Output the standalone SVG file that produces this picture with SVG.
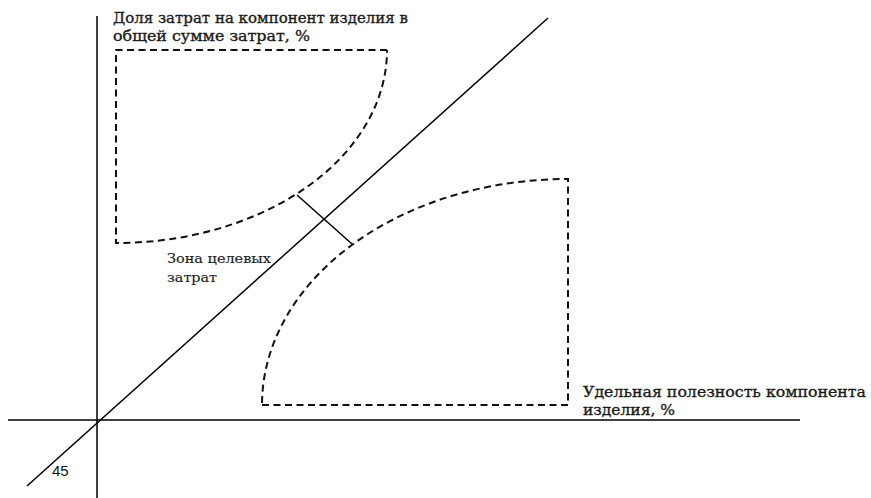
<svg xmlns="http://www.w3.org/2000/svg" width="871" height="498" viewBox="0 0 871 498">
<style>
.ax{stroke:#000;stroke-width:1.5;fill:none}
.zone{stroke:#111;stroke-width:2;fill:none;stroke-dasharray:7 4.5}
.t{font-size:15.5px;fill:#1a1a1a;stroke:#1a1a1a;stroke-width:0.35}
.s{font-size:13.5px;fill:#222;stroke:#222;stroke-width:0.15}
</style>
<rect width="871" height="498" fill="#fff"/>
<g id="connectors">
<line class="ax" x1="97" y1="16" x2="97" y2="498"/>
<line class="ax" x1="8" y1="420" x2="800" y2="420"/>
<line class="ax" x1="27" y1="486" x2="548" y2="18"/>
<line class="ax" x1="297" y1="195" x2="352" y2="244"/>
</g>
<g id="zone-upper">
<path class="zone" d="M387,50 L116,50 L116,243 A271,193 0 0 0 387,50"/>
</g>
<g id="zone-lower">
<path class="zone" d="M262,405 L568,405 L568,179 A306,226 0 0 0 262,405"/>
</g>
<g id="labels" font-family="DejaVu Serif, Liberation Serif, serif">
<text class="t" x="113" y="23" textLength="295" lengthAdjust="spacingAndGlyphs">Доля затрат на компонент изделия в</text>
<text class="t" x="113" y="41" textLength="197" lengthAdjust="spacingAndGlyphs">общей сумме затрат, %</text>
<text class="s" x="167" y="263" textLength="104" lengthAdjust="spacingAndGlyphs">Зона целевых</text>
<text class="s" x="167" y="282" textLength="50" lengthAdjust="spacingAndGlyphs">затрат</text>
<text class="t" x="583" y="397" textLength="283" lengthAdjust="spacingAndGlyphs">Удельная полезность компонента</text>
<text class="t" x="583" y="415" textLength="92" lengthAdjust="spacingAndGlyphs">изделия, %</text>
<text x="52" y="476" font-family="Liberation Sans, sans-serif" font-size="15" fill="#111">45</text>
</g>
</svg>
